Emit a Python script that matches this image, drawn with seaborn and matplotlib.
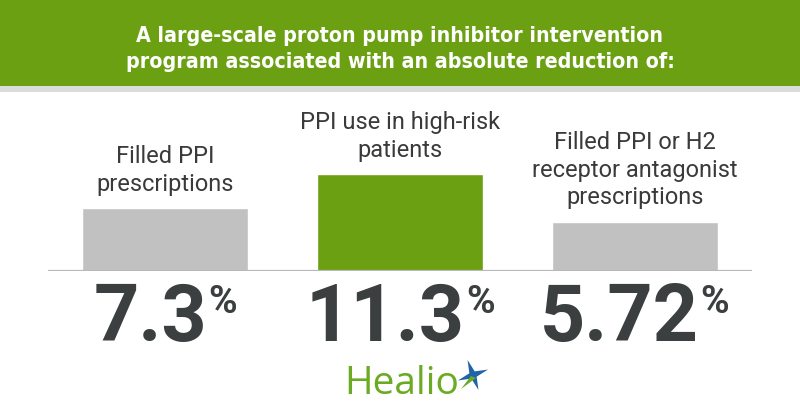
import matplotlib
matplotlib.use("Agg")
import matplotlib.pyplot as plt
import matplotlib.transforms as mtransforms
from matplotlib.patches import Rectangle, Polygon
import seaborn as sns
import numpy as np
import pandas as pd

# ---- data ----
categories = ["Filled PPI\nprescriptions",
              "PPI use in high-risk\npatients",
              "Filled PPI or H2\nreceptor antagonist\nprescriptions"]
values = [7.3, 11.3, 5.72]
value_labels = ["7.3", "11.3", "5.72"]
bar_colors = ["#c1c1c1", "#6aa011", "#c1c1c1"]
title_lines = "A large-scale proton pump inhibitor intervention\nprogram associated with an absolute reduction of:"

W, H = 800, 420
sns.set_theme(style="white")
plt.rcParams["font.family"] = ["Roboto", "DejaVu Sans"]

fig = plt.figure(figsize=(8, 4.2), dpi=100)
fig.patch.set_facecolor("white")

def fy(px):  # pixel from top -> figure fraction
    return 1 - px / H

# header band
fig.patches.append(Rectangle((0, fy(86)), 1, 86 / H, transform=fig.transFigure,
                             facecolor="#6aa011", edgecolor="none", zorder=0))
fig.patches.append(Rectangle((0, fy(92)), 1, 6 / H, transform=fig.transFigure,
                             facecolor="#dcdcdc", edgecolor="none", zorder=0))
fig.text(0.5, fy(49), title_lines, ha="center", va="center", color="white",
         fontsize=15.3, fontweight="bold", fontstretch="condensed", linespacing=1.35,
         family=["DejaVu Sans"])

# bar axes: x spans 48..752 px, baseline at 271 px, 8.57 px per unit
px_per_unit = 8.57
ymax = 20
ax_h = ymax * px_per_unit
ax = fig.add_axes([48 / W, fy(271), 704 / W, ax_h / H])
df = pd.DataFrame({"cat": categories, "val": values})
sns.barplot(data=df, x="cat", y="val", hue="cat", palette=bar_colors,
            legend=False, width=0.707, saturation=1, ax=ax)
ax.set_xlim(-0.5, 2.5)
ax.set_ylim(0, ymax)
ax.axis("off")
ax.axhline(0, color="#b8b8b8", lw=1.6, zorder=5)

# category labels above bars
for i, (c, v) in enumerate(zip(categories, values)):
    ax.annotate(c, xy=(i, v), xytext=(0, 9), textcoords="offset points",
                ha="center", va="bottom", fontsize=17, color="#3a3a3a",
                linespacing=1.25)

# big numbers with superscript %
blend = mtransforms.blended_transform_factory(ax.transData, fig.transFigure)
fig.canvas.draw()
renderer = fig.canvas.get_renderer()
for i, lab in enumerate(value_labels):
    tn = ax.text(i, fy(341), lab, ha="left", va="baseline", fontsize=57,
                 fontweight="bold", color="#3b3f40", transform=blend)
    tp = ax.text(i, fy(284), "%", ha="left", va="top", fontsize=28,
                 fontweight="bold", color="#3b3f40", transform=blend)
    wn = tn.get_window_extent(renderer).width
    wp = tp.get_window_extent(renderer).width
    gap = 1
    total = wn + gap + wp
    tn.set_transform(mtransforms.offset_copy(blend, fig=fig, x=-total / 2, y=0, units="dots"))
    tp.set_transform(mtransforms.offset_copy(blend, fig=fig, x=-total / 2 + wn + gap, y=0, units="dots"))

# Healio logo
fig.text(402 / W, fy(394), "Healio", ha="center", va="baseline", fontsize=28,
         color="#6aab23", family=["Open Sans", "DejaVu Sans"])
cx, cy = 473, 375
pts = []
R, r = 16, 4
for k in range(8):
    ang = np.deg2rad(20 + k * 45)
    rad = R if k % 2 == 0 else r
    pts.append(((cx + rad * np.cos(ang)) / W, fy(cy - rad * np.sin(ang))))
fig.patches.append(Polygon(pts, closed=True, transform=fig.transFigure,
                           facecolor="#1f63a8", edgecolor="none"))
tri = [((cx - 2) / W, fy(cy + 1)), ((cx + 3) / W, fy(cy + 3)), ((cx - 12) / W, fy(cy + 14))]
fig.patches.append(Polygon(tri, closed=True, transform=fig.transFigure,
                           facecolor="#6aab23", edgecolor="none"))

fig.savefig("out.png", dpi=100, facecolor="white")
